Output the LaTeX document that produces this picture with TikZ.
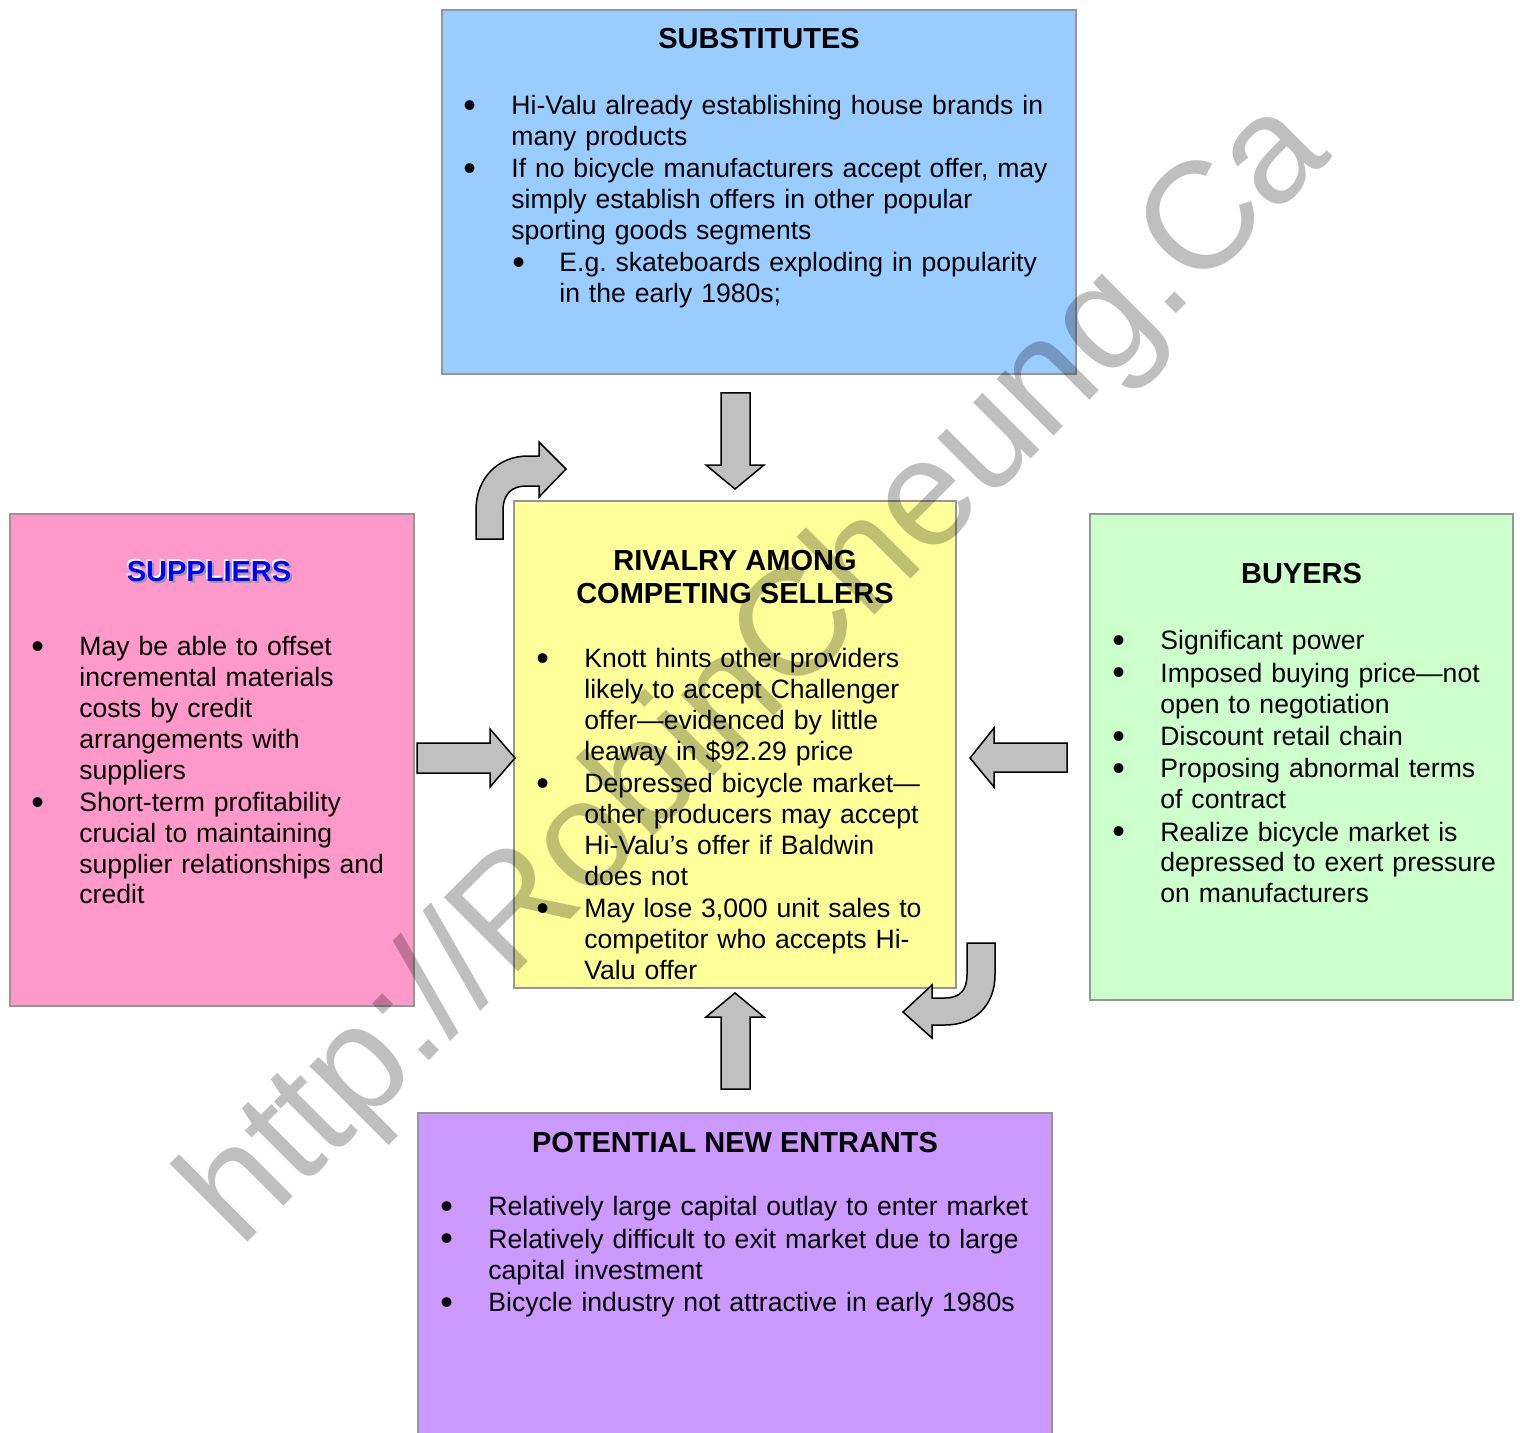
\documentclass[tikz,border=0pt]{standalone}
\usepackage{fontspec}
\setmainfont{Liberation Sans}
\usetikzlibrary{positioning}
\definecolor{subsBlue}{HTML}{99CCFF}
\definecolor{suppPink}{HTML}{FF99CC}
\definecolor{rivYellow}{HTML}{FFFF99}
\definecolor{buyGreen}{HTML}{CCFFCC}
\definecolor{entPurple}{HTML}{CC99FF}
\definecolor{boxGray}{HTML}{969696}
\definecolor{arrGray}{HTML}{C0C0C0}
\definecolor{titleBlue}{HTML}{0000FF}
\definecolor{shadowGray}{HTML}{9A9A9A}
\newcommand{\bigdot}{\raisebox{-1.3pt}{\fontsize{18}{18}\selectfont\textbullet}}
\newcommand{\bul}{\par\hangindent=24pt\hangafter=1\noindent\strut\makebox[24pt][l]{\bigdot}}
\newcommand{\subbul}{\par\hangindent=48pt\hangafter=1\noindent\strut\hspace*{24.5pt}\makebox[23.5pt][l]{\bigdot}}
\newcommand{\embossed}[1]{\makebox[0pt][l]{\hspace{1.1pt}\raisebox{-1.1pt}{\textcolor{shadowGray}{#1}}}%
  \makebox[0pt][l]{\hspace{-0.7pt}\raisebox{0.7pt}{\textcolor{white}{#1}}}\textcolor{titleBlue}{#1}}
\tikzset{
  box/.style={rectangle, draw=boxGray, line width=1.25pt, inner sep=0pt, outer sep=0pt},
  boxtitle/.style={font=\fontsize{14.5}{16.5}\selectfont\bfseries, align=center, inner sep=0pt},
  boxtext/.style={anchor=north west, inner sep=0pt, text width=#1,
                  font=\fontsize{13.3}{15.4}\selectfont,
                  execute at begin node={\setlength{\parskip}{0.8pt}}},
  blockarr/.style={draw=black, fill=arrGray, line width=0.75pt, line join=miter},
  watermark/.style={font=\fontsize{76}{80}\selectfont, text=black, opacity=0.25, inner sep=0pt},
}
\begin{document}
\begin{tikzpicture}[x=0.5pt, y=-0.5pt]
  \useasboundingbox (0,0) rectangle (1520,1433);
  \clip (0,0) rectangle (1520,1433);

  % the five forces
  \node[box, fill=subsBlue, minimum width=317pt, minimum height=182pt] (subs) at (759,192) {};
  \node[box, fill=suppPink, minimum width=202pt, minimum height=246pt] (supp) at (212,760) {};
  \node[box, fill=rivYellow, minimum width=221pt, minimum height=243.5pt] (riv) at (735,744.5) {};
  \node[box, fill=buyGreen, minimum width=211.5pt, minimum height=243pt] (buy) at (1301.5,757) {};
  \node[box, fill=entPurple, minimum width=317pt, minimum height=163.5pt] (ent) at (735,1276.5) {};

  \node[boxtitle, below=8.8pt of subs.north] (subsTitle) {SUBSTITUTES};
  \node[boxtitle, below=22.6pt of supp.north, xshift=-1.5pt] (suppTitle) {\embossed{SUPPLIERS}};
  \node[boxtitle, below=24.3pt of riv.north] (rivTitle) {RIVALRY AMONG\\COMPETING SELLERS};
  \node[boxtitle, below=24.3pt of buy.north] (buyTitle) {BUYERS};
  \node[boxtitle, below=9.3pt of ent.north] (entTitle) {POTENTIAL NEW ENTRANTS};

  \node[boxtext=300pt] (subsText) at (463,82) {%
    \bul Hi-Valu already establishing house brands in\newline many products
    \bul If no bicycle manufacturers accept offer, may\newline simply establish offers in other popular\newline sporting goods segments
    \subbul E.g.\ skateboards exploding in popularity\newline in the early 1980s;\par};
  \node[boxtext=190pt] (suppText) at (31,623) {%
    \bul May be able to offset\newline incremental materials\newline costs by credit\newline arrangements with\newline suppliers
    \bul Short-term profitability\newline crucial to maintaining\newline supplier relationships and\newline credit\par};
  \node[boxtext=205pt] (rivText) at (536,635) {%
    \bul Knott hints other providers\newline likely to accept Challenger\newline offer—evidenced by little\newline leaway in \$92.29 price
    \bul Depressed bicycle market—\newline other producers may accept\newline Hi-Valu’s offer if Baldwin\newline does not
    \bul May lose 3,000 unit sales to\newline competitor who accepts Hi-\newline Valu offer\par};
  \node[boxtext=205pt] (buyText) at (1112,617) {%
    \bul Significant power
    \bul Imposed buying price—not\newline open to negotiation
    \bul Discount retail chain
    \bul Proposing abnormal terms\newline of contract
    \bul Realize bicycle market is\newline depressed to exert pressure\newline on manufacturers\par};
  \node[boxtext=300pt] (entText) at (440,1183) {%
    \bul Relatively large capital outlay to enter market
    \bul Relatively difficult to exit market due to large\newline capital investment
    \bul Bicycle industry not attractive in early 1980s\par};

  % block arrows into the rivalry box
  \draw[blockarr] (721,393) -- (750,393) -- (750,465) -- (764,465) -- (735,489)
    -- (706,465) -- (721,465) -- cycle;
  \draw[blockarr] (721,1089) -- (750,1089) -- (750,1017) -- (764,1017) -- (735,993)
    -- (706,1017) -- (721,1017) -- cycle;
  \draw[blockarr] (417,743) -- (490,743) -- (490,729) -- (515,758) -- (490,787)
    -- (490,773) -- (417,773) -- cycle;
  \draw[blockarr] (1067,743) -- (994,743) -- (994,728) -- (970,758) -- (994,787)
    -- (994,772) -- (1067,772) -- cycle;
  % curved arrows
  \draw[blockarr] (476,539) -- (476,510) .. controls (476,478) and (498,456) .. (528,456)
    -- (539,456) -- (539,442) -- (566,469) -- (539,497) -- (539,486) -- (526,486)
    .. controls (512,486) and (503,494) .. (503,510) -- (503,539) -- cycle;
  \draw[blockarr] (967,943) -- (995,943) -- (995,975) .. controls (995,1005) and (975,1025) .. (945,1025)
    -- (932,1025) -- (932,1038) -- (903,1012) -- (932,985) -- (932,998) -- (945,998)
    .. controls (960,998) and (967,990) .. (967,975) -- cycle;

  \node[watermark, anchor=base west, rotate=45] (wm) at (240,1250) {http://RobinCheung.Ca};
\end{tikzpicture}
\end{document}
